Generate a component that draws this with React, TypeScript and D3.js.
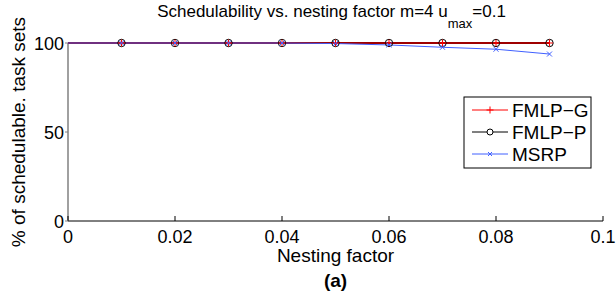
import React from "react";
import * as d3 from "d3";

const nestingFactors = [0, 0.01, 0.02, 0.03, 0.04, 0.05, 0.06, 0.07, 0.08, 0.09];
const fmlpG = [100, 100, 100, 100, 100, 100, 100, 100, 100, 100];
const fmlpP = [100, 100, 100, 100, 100, 100, 100, 100, 100, 100];
const msrp = [100, 100, 100, 100, 100, 99.7, 98.9, 97.6, 96.5, 93.8];
const xTicks = [0, 0.02, 0.04, 0.06, 0.08, 0.1];
const yTicks = [0, 50, 100];

const W = 616, H = 291;
const x0 = 68, x1 = 603, y0 = 221, y1 = 43;
const font = "Liberation Sans, Arial, Helvetica, sans-serif";

export default function App() {
  const x = d3.scaleLinear().domain([0, 0.1]).range([x0, x1]);
  const y = d3.scaleLinear().domain([0, 100]).range([y0, y1]);
  const line = (vals: number[]) =>
    d3.line<number>().x((_, i) => x(nestingFactors[i])).y((v) => y(v))(vals) || "";
  const markIdx = nestingFactors.map((_, i) => i).filter((i) => nestingFactors[i] > 0);
  const plus = (cx: number, cy: number, s: number, c: string, k: string) => (
    <path key={k} d={`M${cx - s},${cy}H${cx + s}M${cx},${cy - s}V${cy + s}`} stroke={c} strokeWidth={1} fill="none" />
  );
  const cross = (cx: number, cy: number, s: number, c: string, k: string) => (
    <path key={k} d={`M${cx - s},${cy - s}L${cx + s},${cy + s}M${cx - s},${cy + s}L${cx + s},${cy - s}`} stroke={c} strokeWidth={1} fill="none" />
  );
  const cxMid = (x0 + x1) / 2;
  const legX = 464, legY = 97, legW = 127, legH = 71;
  const legItems = [
    { name: "FMLP\u2212G", color: "#ff0000", m: "plus", yy: 110 },
    { name: "FMLP\u2212P", color: "#000000", m: "circle", yy: 132 },
    { name: "MSRP", color: "#4060ff", m: "cross", yy: 154 },
  ];
  return (
    <svg width={W} height={H} style={{ position: "absolute", left: 0, top: 0 }} fontFamily={font}>
      <rect width={W} height={H} fill="#fff" />
      <text x={cxMid - 4} y={17} fontSize={17} textAnchor="middle">
        Schedulability vs. nesting factor m=4 u
        <tspan fontSize={13} dy={11}>max</tspan>
        <tspan dy={-11}>=0.1</tspan>
      </text>
      {/* axes */}
      <line x1={x0} y1={y0} x2={x1} y2={y0} stroke="#000" strokeWidth={1} />
      <line x1={x0} y1={y0} x2={x0} y2={y1} stroke="#808080" strokeWidth={1.5} />
      {xTicks.map((t) => (
        <g key={"xt" + t}>
          <line x1={x(t)} x2={x(t)} y1={y0} y2={y0 - 5} stroke="#000" />
          <text x={x(t)} y={y0 + 22} fontSize={18} textAnchor="middle">{d3.format("")(t)}</text>
        </g>
      ))}
      {yTicks.map((t) => (
        <g key={"yt" + t}>
          <line x1={x0} x2={x0 - 3} y1={y(t)} y2={y(t)} stroke="#808080" />
          <text x={x0 - 4} y={y(t) + 7} fontSize={18} textAnchor="end">{t}</text>
        </g>
      ))}
      <text x={cxMid} y={262} fontSize={19} textAnchor="middle">Nesting factor</text>
      <text x={cxMid} y={287} fontSize={19} fontWeight="bold" textAnchor="middle">(a)</text>
      <text transform={`translate(25,${132}) rotate(-90)`} fontSize={19} textAnchor="middle">% of schedulable. task sets</text>
      {/* series */}
      <path d={line(fmlpG)} stroke="#ff0000" strokeWidth={1.8} fill="none" />
      <path d={line(fmlpP)} stroke="#000" strokeWidth={1.2} fill="none" opacity={0.75} />
      <path d={line(msrp)} stroke="#4060ff" strokeWidth={1} fill="none" />
      {markIdx.map((i) => (
        <circle key={"c" + i} cx={x(nestingFactors[i])} cy={y(fmlpP[i])} r={3.7} stroke="#000" fill="none" strokeWidth={1} />
      ))}
      {markIdx.map((i) => plus(x(nestingFactors[i]), y(fmlpG[i]), 3.5, "#ff0000", "p" + i))}
      {markIdx.map((i) => cross(x(nestingFactors[i]), y(msrp[i]), 2.5, "#4060ff", "x" + i))}
      {/* legend */}
      <rect x={legX} y={legY} width={legW} height={legH} fill="#fff" stroke="#000" strokeWidth={1} />
      {legItems.map((it) => {
        const cx = 490;
        return (
          <g key={it.name}>
            <line x1={472} x2={508} y1={it.yy} y2={it.yy} stroke={it.color} strokeWidth={1} />
            {it.m === "plus" && plus(cx, it.yy, 3.5, it.color, "lp")}
            {it.m === "circle" && <circle cx={cx} cy={it.yy} r={3} stroke="#000" fill="#fff" />}
            {it.m === "cross" && cross(cx, it.yy, 2, it.color, "lx")}
            <text x={512} y={it.yy + 7} fontSize={19}>{it.name}</text>
          </g>
        );
      })}
    </svg>
  );
}
